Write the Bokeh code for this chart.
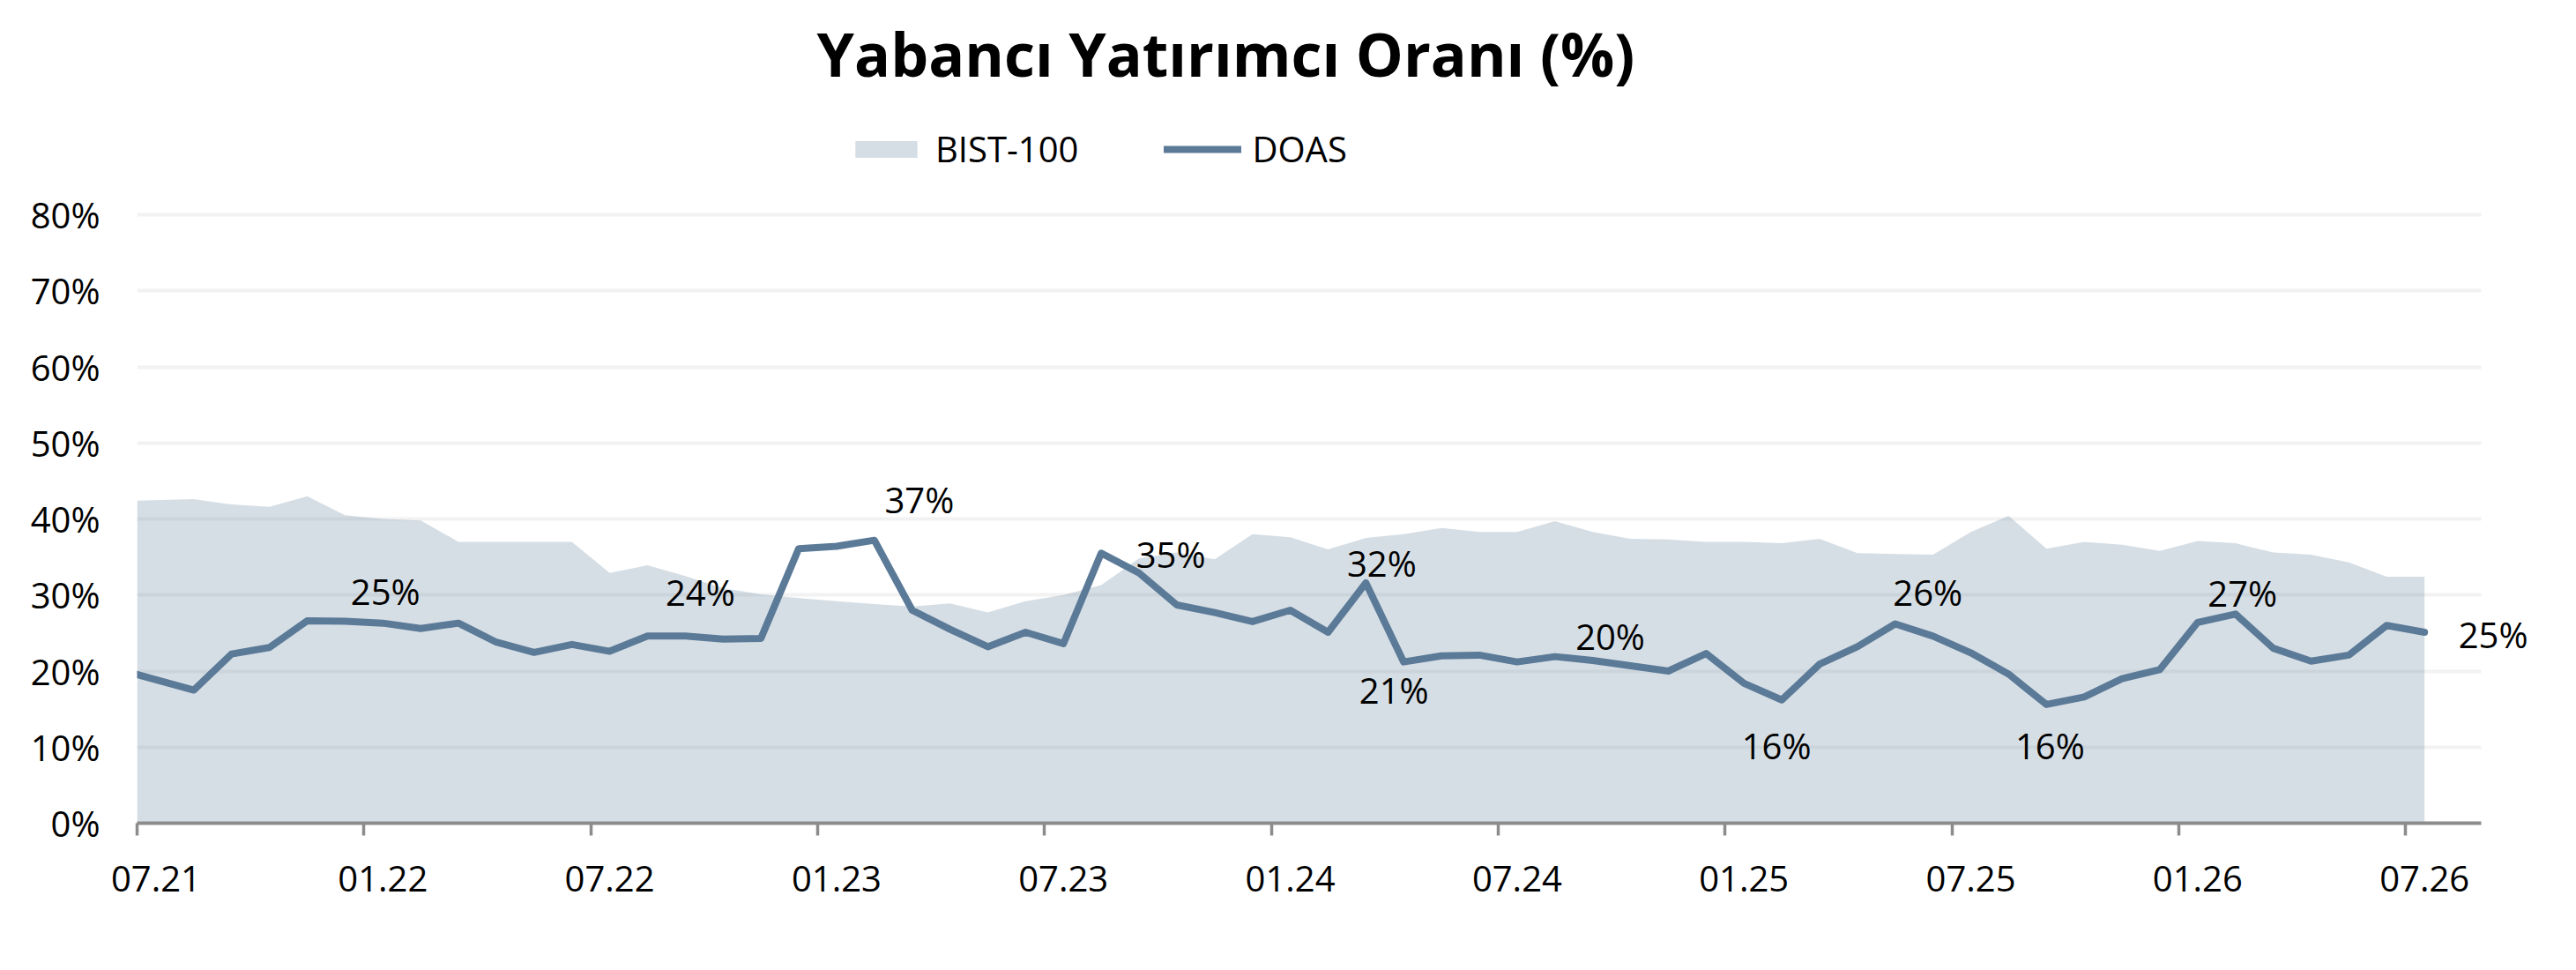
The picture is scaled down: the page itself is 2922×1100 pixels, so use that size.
from bokeh.plotting import figure
from bokeh.models import Range1d, FixedTicker, Legend, LegendItem, Label, LabelSet, ColumnDataSource
from bokeh.core.properties import value
from bokeh.embed import file_html
from bokeh.resources import INLINE

# ---------------- data ----------------
tick_labels = ["07.21", "01.22", "07.22", "01.23", "07.23", "01.24",
               "07.24", "01.25", "07.25", "01.26", "07.26"]

bist = [42.4, 42.6, 41.9, 41.6, 43.0, 40.5, 40.0, 39.8, 37.0, 37.0, 37.0, 37.0,
        32.9, 33.9, 32.5, 30.9, 30.1, 29.6, 29.2, 28.8, 28.5, 28.9, 27.7, 29.2,
        30.0, 31.3, 34.8, 35.6, 34.7, 38.0, 37.6, 36.0, 37.5, 38.0, 38.8, 38.3,
        38.3, 39.7, 38.3, 37.4, 37.3, 37.0, 37.0, 36.8, 37.4, 35.5, 35.4, 35.3,
        38.3, 40.4, 36.1, 37.0, 36.6, 35.8, 37.1, 36.8, 35.6, 35.3, 34.3, 32.4,
        32.4]

doas = [19.55, 17.5, 22.25, 23.1, 26.6, 26.55, 26.3, 25.6, 26.3, 23.8, 22.45, 23.5,
        22.6, 24.6, 24.6, 24.2, 24.3, 36.1, 36.4, 37.2, 28.0, 25.5, 23.2, 25.1,
        23.6, 35.5, 32.9, 28.7, 27.7, 26.5, 28.0, 25.1, 31.6, 21.2, 22.0, 22.1,
        21.2, 21.9, 21.4, 20.7, 20.0, 22.3, 18.4, 16.2, 20.9, 23.2, 26.2, 24.6,
        22.4, 19.6, 15.6, 16.6, 19.0, 20.2, 26.4, 27.5, 23.0, 21.3, 22.1, 26.0,
        25.1]

label_idx = [6, 14, 19, 25, 32, 33, 39, 43, 46, 50, 55, 60]
label_text = ["25%", "24%", "37%", "35%", "32%", "21%", "20%", "16%", "26%", "16%", "27%", "25%"]

y_ticks = [0, 10, 20, 30, 40, 50, 60, 70, 80]

# ---------------- styles ----------------
# label offsets in screen pixels (dx to the right, dy downward)
label_dx = [3, 17, 51, 79, 18, -11, -23, -6, 37, 4, 8, 78]
label_dy = [-36, -50, -46, 1, -22, 32, -33, 52, -36, 47, -24, 2]

LINE_COLOR = "#5b7a97"
FONT = "Open Sans"

n = len(doas)
xs = [0.0] + [i + 0.5 for i in range(1, n)]
src = ColumnDataSource(dict(x=xs, bist=bist, doas=doas, zero=[0] * n))

lab_src = ColumnDataSource(dict(
    x=[xs[i] for i in label_idx],
    y=[doas[i] for i in label_idx],
    text=label_text, dx=label_dx, dy=[-d for d in label_dy]))

AXIS_END = 62.0                     # visible axis extent (months)
X_END = AXIS_END * (2900 - 155) / (2814 - 155)   # frame extends a bit further for the last label

W, H = 2906, 1084
p = figure(width=W, height=H, output_backend="svg", toolbar_location=None,
           title=None,
           x_range=Range1d(0, X_END), y_range=Range1d(0, 80 * 933 / 690),
           min_border_left=155, min_border_right=6, min_border_top=0,
           min_border_bottom=151)
p.outline_line_color = None
p.background_fill_color = "white"
p.border_fill_color = "white"

area = p.varea(x="x", y1="zero", y2="bist", source=src,
               fill_color=LINE_COLOR, fill_alpha=0.25)
line = p.line(x="x", y="doas", source=src, line_color=LINE_COLOR,
              line_width=8, line_join="round", line_cap="round")

labels = LabelSet(x="x", y="y", text="text", x_offset="dx", y_offset="dy",
                  source=lab_src, text_font=value(FONT), text_font_size=value("40px"),
                  text_align="center", text_baseline="middle", text_color="black")
p.add_layout(labels)

# axes
xa = p.xaxis[0]
xa.bounds = (0, AXIS_END)
xa.ticker = FixedTicker(ticks=[0.5 + 6 * k for k in range(len(tick_labels))],
                        minor_ticks=[6 * k for k in range(len(tick_labels))])
xa.major_label_overrides = {0.5 + 6 * k: t for k, t in enumerate(tick_labels)}
xa.major_tick_line_color = None
xa.major_tick_out = 0
xa.major_tick_in = 0
xa.minor_tick_line_color = "#8c8c8c"
xa.minor_tick_line_width = 3.5
xa.minor_tick_out = 14
xa.minor_tick_in = 0
xa.axis_line_color = "#8c8c8c"
xa.axis_line_width = 4
xa.major_label_standoff = 34
xa.major_label_text_font = FONT
xa.major_label_text_font_size = "40px"
xa.major_label_text_color = "black"

ya = p.yaxis[0]
ya.ticker = FixedTicker(ticks=y_ticks)
ya.major_label_overrides = {t: f"{t}%" for t in y_ticks}
ya.axis_line_color = None
ya.major_tick_line_color = None
ya.minor_tick_line_color = None
ya.major_tick_out = 0
ya.major_label_standoff = 42
ya.major_label_text_font = FONT
ya.major_label_text_font_size = "40px"
ya.major_label_text_color = "black"

p.xgrid.grid_line_color = None
p.ygrid.ticker = FixedTicker(ticks=y_ticks)
p.ygrid.cross_bounds = (0, AXIS_END)
p.ygrid.grid_line_color = "#f2f2f2"
p.ygrid.grid_line_width = 4

# title
title = Label(x=1235, y=873, x_units="screen", y_units="screen",
              text="Yabancı Yatırımcı Oranı (%)", text_font=FONT,
              text_font_size="68px", text_font_style="bold",
              text_align="center", text_baseline="alphabetic", text_color="black")
p.add_layout(title)

legend = Legend(items=[LegendItem(label="BIST-100", renderers=[area]),
                       LegendItem(label="DOAS", renderers=[line])],
                orientation="horizontal", location=(806, 737),
                glyph_width=88, glyph_height=24, label_height=24,
                label_standoff=12, spacing=97, padding=0, margin=0,
                border_line_color=None, background_fill_alpha=0,
                label_text_font=FONT, label_text_font_size="40px",
                label_text_color="black")
p.add_layout(legend)

open("out.html", "w").write(file_html(p, INLINE))
